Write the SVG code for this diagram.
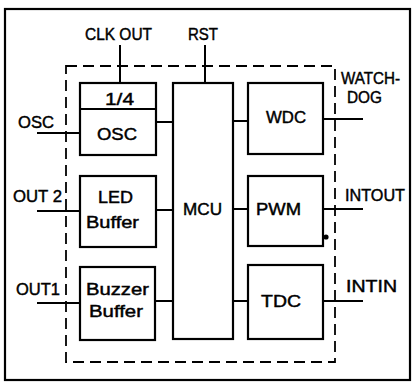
<svg xmlns="http://www.w3.org/2000/svg" width="412" height="387" viewBox="0 0 412 387">
<style>
.bx{fill:none;stroke:#000;stroke-width:2.2}
.ln{fill:none;stroke:#000;stroke-width:2}
.ds{fill:none;stroke:#000;stroke-width:1.8;stroke-dasharray:11 6}
text{font-family:"Liberation Sans",Arial,sans-serif;fill:#000;stroke:#000;stroke-width:0.45;font-size:17px}
</style>
<rect x="0" y="0" width="412" height="387" fill="#fff"/>
<rect id="frame" x="5" y="9" width="405" height="371" class="bx"/>
<rect id="chip" x="66" y="66" width="269" height="296" class="ds"/>
<g id="connectors">
<line x1="120" y1="45" x2="120" y2="83" class="ln"/>
<line x1="205" y1="45" x2="205" y2="83" class="ln"/>
<line x1="37" y1="133" x2="80" y2="133" class="ln"/>
<line x1="156" y1="122" x2="173" y2="122" class="ln"/>
<line x1="37" y1="211" x2="80" y2="211" class="ln"/>
<line x1="156" y1="210" x2="173" y2="210" class="ln"/>
<line x1="37" y1="303" x2="80" y2="303" class="ln"/>
<line x1="155" y1="301" x2="173" y2="301" class="ln"/>
<line x1="233" y1="121" x2="248" y2="121" class="ln"/>
<line x1="323" y1="119" x2="363" y2="119" class="ln"/>
<line x1="233" y1="209" x2="248" y2="209" class="ln"/>
<line x1="323" y1="209" x2="363" y2="209" class="ln"/>
<line x1="233" y1="301" x2="248" y2="301" class="ln"/>
<line x1="323" y1="301" x2="363" y2="301" class="ln"/>
<circle cx="326" cy="237" r="2.6" fill="#000"/>
</g>
<g id="labels">
<text x="85" y="40" textLength="67" lengthAdjust="spacingAndGlyphs">CLK OUT</text>
<text x="188" y="40" textLength="30" lengthAdjust="spacingAndGlyphs">RST</text>
<text x="18" y="128" font-size="19" textLength="36" lengthAdjust="spacingAndGlyphs">OSC</text>
<text x="13" y="202" textLength="49" lengthAdjust="spacingAndGlyphs">OUT 2</text>
<text x="16" y="295" font-size="18" textLength="44" lengthAdjust="spacingAndGlyphs">OUT1</text>
<text x="341" y="84" textLength="59" lengthAdjust="spacingAndGlyphs">WATCH-</text>
<text x="347" y="103" font-size="18" textLength="35" lengthAdjust="spacingAndGlyphs">DOG</text>
<text x="345" y="201" textLength="60" lengthAdjust="spacingAndGlyphs">INTOUT</text>
<text x="346" y="292" font-size="18" textLength="51" lengthAdjust="spacingAndGlyphs">INTIN</text>
</g>
<g id="osc">
<rect x="80" y="83" width="76" height="72" class="bx"/>
<line x1="80" y1="109" x2="156" y2="109" class="ln"/>
<text x="105" y="105" font-size="18" textLength="29" lengthAdjust="spacingAndGlyphs">1/4</text>
<text x="97" y="140" textLength="40" lengthAdjust="spacingAndGlyphs">OSC</text>
</g>
<g id="led">
<rect x="80" y="176" width="76" height="71" class="bx"/>
<text x="98" y="203" textLength="35" lengthAdjust="spacingAndGlyphs">LED</text>
<text x="86" y="228" font-size="18" textLength="53" lengthAdjust="spacingAndGlyphs">Buffer</text>
</g>
<g id="buzzer">
<rect x="80" y="267" width="75" height="73" class="bx"/>
<text x="86" y="295" font-size="19" textLength="63" lengthAdjust="spacingAndGlyphs">Buzzer</text>
<text x="89" y="317" font-size="18" textLength="54" lengthAdjust="spacingAndGlyphs">Buffer</text>
</g>
<g id="mcu">
<rect x="173" y="83" width="60" height="256" class="bx"/>
<text x="183" y="215" textLength="39" lengthAdjust="spacingAndGlyphs">MCU</text>
</g>
<g id="wdc">
<rect x="248" y="83" width="75" height="71" class="bx"/>
<text x="266" y="123" textLength="40" lengthAdjust="spacingAndGlyphs">WDC</text>
</g>
<g id="pwm">
<rect x="248" y="176" width="75" height="70" class="bx"/>
<text x="256" y="215" textLength="45" lengthAdjust="spacingAndGlyphs">PWM</text>
</g>
<g id="tdc">
<rect x="248" y="265" width="75" height="74" class="bx"/>
<text x="261" y="307" textLength="40" lengthAdjust="spacingAndGlyphs">TDC</text>
</g>
</svg>
